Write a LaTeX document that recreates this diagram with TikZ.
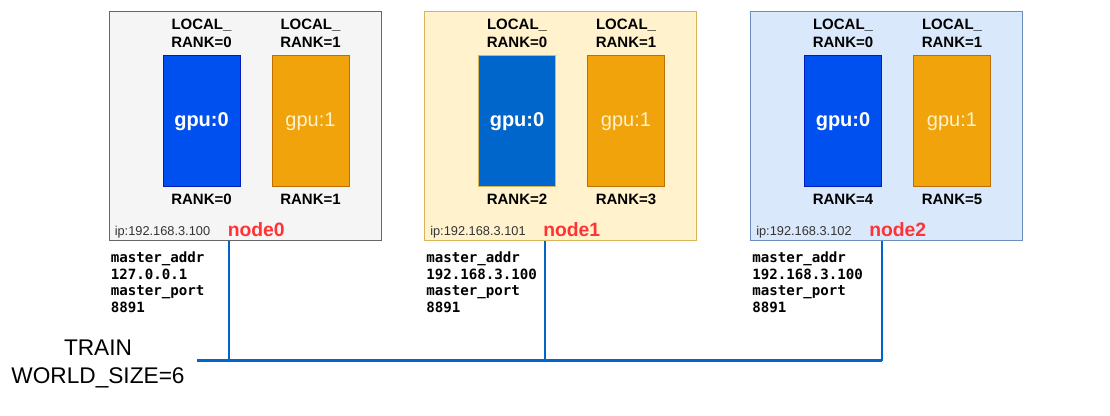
\documentclass[tikz,border=0pt]{standalone}
\usepackage{fontspec}
\setmainfont{Liberation Sans}
\setmonofont{DejaVu Sans Mono}
\usetikzlibrary{positioning}
\definecolor{hostgray}{HTML}{F5F5F5}
\definecolor{hostgrayline}{HTML}{666666}
\definecolor{hostyellow}{HTML}{FFF2CC}
\definecolor{hostyellowline}{HTML}{D6B656}
\definecolor{hostblue}{HTML}{DAE8FC}
\definecolor{hostblueline}{HTML}{6C8EBF}
\definecolor{gpublue}{HTML}{0050EF}
\definecolor{gpublueline}{HTML}{001DBC}
\definecolor{gpumid}{HTML}{0066CC}
\definecolor{gpuorange}{HTML}{F0A30A}
\definecolor{gpuorangeline}{HTML}{BD7000}
\definecolor{gpulight}{HTML}{FFF2CC}
\definecolor{linkblue}{HTML}{0066CC}
\definecolor{nodered}{HTML}{FF3333}
\definecolor{iptext}{HTML}{333333}
\tikzset{hostbox/.style={draw,line width=0.75pt,minimum width=204pt,minimum height=171.75pt,inner sep=0pt},
 gpubox/.style={draw,line width=0.75pt,minimum width=57.75pt,minimum height=98.25pt,inner sep=0pt},
 gpumain/.style={gpubox,text=white,font=\fontsize{15}{18}\selectfont\bfseries},
 gpuside/.style={gpubox,fill=gpuorange,draw=gpuorangeline,text=gpulight,font=\fontsize{15}{18}\selectfont},
 ranklabel/.style={inner sep=0pt,align=center,font=\fontsize{11.25}{13.5}\selectfont\bfseries},
 iplabel/.style={inner sep=0pt,text=iptext,font=\fontsize{9.6}{11}\selectfont},
 hostname/.style={inner sep=0pt,text=nodered,font=\fontsize{14.5}{17}\selectfont\bfseries},
 masterlabel/.style={inner sep=0pt,align=left,font=\fontsize{10.6}{12.4}\selectfont\ttfamily\bfseries},
 link/.style={draw=linkblue,line width=1.5pt},
 bus/.style={draw=linkblue,line width=2.25pt}}

\begin{document}
\begin{tikzpicture}[x=0.75pt,y=-0.75pt]
\useasboundingbox (0,0) rectangle (1110,416);
\foreach \i/\bx/\fc/\dc/\gc/\gd/\ra/\rb/\ip/\addr/\tx in
  {0/245/hostgray/hostgrayline/gpublue/gpublueline/0/1/192.168.3.100/127.0.0.1/120,
   1/560.5/hostyellow/hostyellowline/gpumid/hostyellowline/2/3/192.168.3.101/192.168.3.100/120,
   2/886.5/hostblue/hostblueline/gpublue/gpublueline/4/5/192.168.3.102/192.168.3.100/131}{
  \node[hostbox,fill=\fc,draw=\dc] (host\i) at (\bx,126.5) {};
  \node[gpumain,fill=\gc,draw=\gd] (gpua\i) at (\bx-43.5,121.5) {gpu:0};
  \node[gpuside] (gpub\i) at (\bx+65.5,121.5) {gpu:1};
  \node[ranklabel,above=6pt of gpua\i] (locala\i) {LOCAL\_\\RANK=0};
  \node[ranklabel,above=6pt of gpub\i] (localb\i) {LOCAL\_\\RANK=1};
  \node[ranklabel,below=4.5pt of gpua\i] (ranka\i) {RANK=\ra};
  \node[ranklabel,below=4.5pt of gpub\i] (rankb\i) {RANK=\rb};
  \node[iplabel,anchor=base west] (ip\i) at ([shift={(6,-6)}]host\i.south west) {ip:\ip};
  \node[hostname,anchor=base west] (name\i) at ([shift={(119,-5)}]host\i.south west) {node\i};
  \node[masterlabel,anchor=north west] (master\i) at ([shift={(2,10)}]host\i.south west)
    {master\_addr\\\addr\\master\_port\\8891};
  \coordinate (tap\i) at (\bx-136+\tx,361);
  \draw[link] (host\i.south -| tap\i) -- (tap\i);
}
\node[inner sep=0pt,align=center,font=\fontsize{17}{21}\selectfont] (train) at (98,364)
  {TRAIN\\WORLD\_SIZE=6};
\coordinate (busstart) at (197,361);
\draw[bus] (busstart) -- (tap2);
\end{tikzpicture}
\end{document}
